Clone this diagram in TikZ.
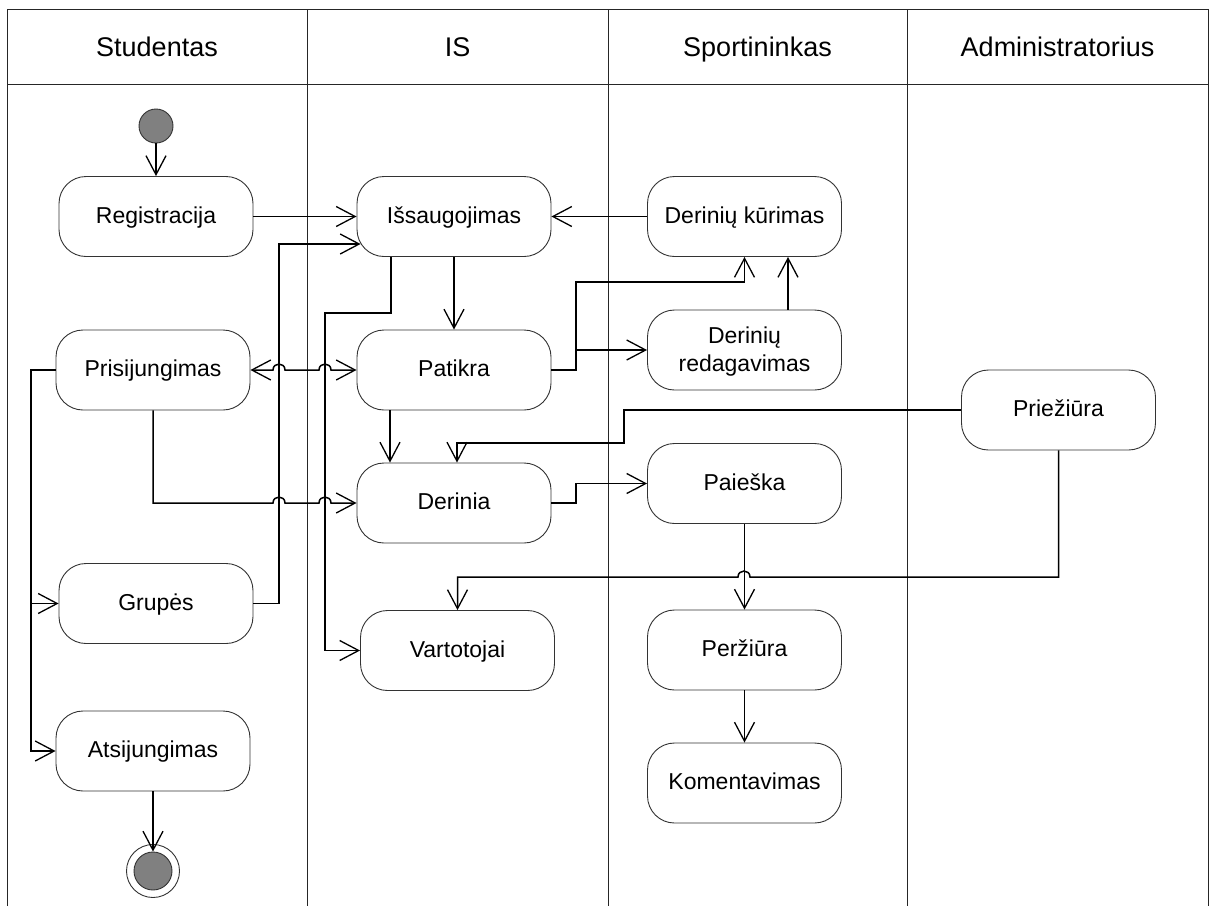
\documentclass[tikz,border=0pt]{standalone}
\usepackage{fontspec}
\setmainfont{Liberation Sans}
\usetikzlibrary{arrows.meta}
\definecolor{dotgray}{HTML}{808080}
\begin{document}
\begin{tikzpicture}[x=1pt,y=-1pt,
  actbase/.style={draw=black!80, line width=0.9pt, fill=white, rounded corners=27pt,
    minimum width=194pt, minimum height=80pt, inner sep=0pt,
    font=\fontsize{23}{28}\selectfont},
  act/.style={actbase, text height=18pt, text depth=5pt},
  act2/.style={actbase, align=center},
  hdr/.style={font=\fontsize{27}{30}\selectfont, text height=22pt, text depth=4pt},
  lane/.style={line width=0.9pt, draw=black!85},
  tip/.tip={Straight Barb[length=19pt,width=20pt,line width=1.3pt]},
  conn/.style={line width=1.5pt, -tip},
  both/.style={line width=1.5pt, tip-tip},
  startdot/.style={circle, draw=black!80, line width=0.9pt, fill=dotgray, minimum size=34pt, inner sep=0pt},
  endring/.style={circle, draw=black!80, line width=0.9pt, fill=white, minimum size=53pt, inner sep=0pt},
  enddot/.style={circle, draw=black!80, line width=0.9pt, fill=dotgray, minimum size=38pt, inner sep=0pt}
]
\useasboundingbox (0,0) rectangle (1210,906);
% lanes
\draw[lane] (7,906) -- (7,9) -- (1208,9) -- (1208,906);
\draw[lane] (7,84) -- (1208,84);
\draw[lane] (307,9) -- (307,906);
\draw[lane] (608,9) -- (608,906);
\draw[lane] (907,9) -- (907,906);
\node[hdr] (h1) at (157,47) {Studentas};
\node[hdr] (h2) at (457.5,47) {IS};
\node[hdr] (h3) at (757.5,47) {Sportininkas};
\node[hdr] (h4) at (1057.5,47) {Administratorius};
% nodes
\node[startdot] (init) at (156,126) {};
\node[act] (reg) at (156,216.5) {Registracija};
\node[act] (iss) at (454,216.5) {Išsaugojimas};
\node[act] (kur) at (744.5,216.5) {Derinių kūrimas};
\node[act2] (red) at (744.5,350) {\strut Derinių\\redagavimas};
\node[act] (pri) at (153,370) {Prisijungimas};
\node[act] (pat) at (454,370) {Patikra};
\node[act] (prz) at (1058.5,410) {Priežiūra};
\node[act] (der) at (454,503) {Derinia};
\node[act] (pai) at (744.5,483.5) {Paieška};
\node[act] (gru) at (156,603.5) {Grupės};
\node[act] (var) at (457.5,650.5) {Vartotojai};
\node[act] (per) at (744.5,650) {Peržiūra};
\node[act] (kom) at (744.5,783) {Komentavimas};
\node[act] (ats) at (153,751) {Atsijungimas};
\node[endring] (fin) at (153,871) {};
\node[enddot] (finin) at (153,871) {};
% connectors
\draw[conn] (init) -- (reg);
\draw[conn] (reg) -- (iss);
\draw[conn] (kur) -- (iss);
\draw[conn] (iss) -- (pat);
\draw[conn] ([xshift=-63pt]iss.south) |- (325,313) |- (var.west);
\draw[both] (pri.east) -- (273,370) .. controls (273,362) and (285,362) .. (285,370)
  -- (319,370) .. controls (319,362) and (331,362) .. (331,370) -- (pat.west);
\draw[conn] (pat.east) -| (576,282) -| (kur.south);
\draw[conn] (pat.east) -| (576,350) -- (red.west);
\draw[conn] ([xshift=43.5pt]red.north) -- ([xshift=43.5pt]kur.south);
\draw[conn] (pri.south) |- (273,503) .. controls (273,495) and (285,495) .. (285,503)
  -- (319,503) .. controls (319,495) and (331,495) .. (331,503) -- (der.west);
\draw[conn] ([xshift=-64pt]pat.south) -- ([xshift=-64pt]der.north);
\draw[conn] (der.east) -| (576,483.5) -- (pai.west);
\draw[conn] (prz.west) -| (624,443) -| ([xshift=3pt]der.north);
\draw[conn] (prz.south) |- (750,577) .. controls (750,569) and (738,569) .. (738,577) -| (var.north);
\draw[conn] (pai) -- (per);
\draw[conn] (per) -- (kom);
\draw[conn] (pri.west) -| (31,751) -- (ats.west);
\draw[conn] (31,603.5) -- (gru.west);
\draw[conn] (gru.east) -| (279,244) -- ([xshift=4pt,yshift=-27.5pt]iss.west);
\draw[conn] (ats.south) -- (finin.north);
\end{tikzpicture}
\end{document}
